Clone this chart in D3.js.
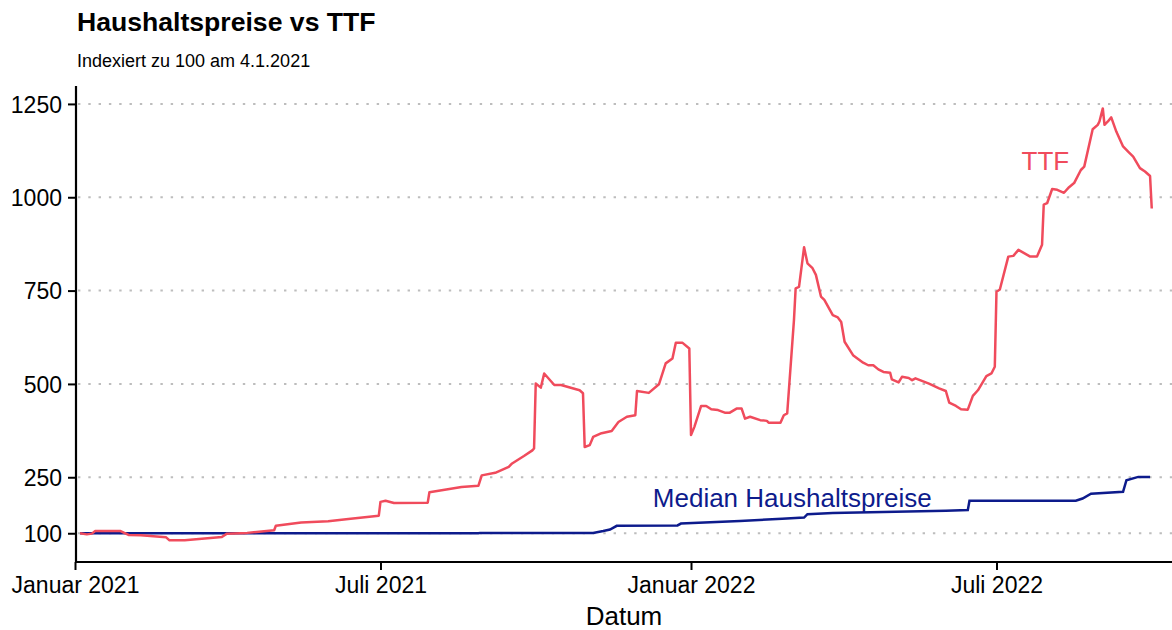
<!DOCTYPE html>
<html>
<head>
<meta charset="utf-8">
<script src="https://cdn.jsdelivr.net/npm/d3@7"></script>
<style>
  body { margin: 0; background: #fff; }
  text { font-family: "Liberation Sans", Arial, sans-serif; }
</style>
</head>
<body>
<svg id="chart" width="1172" height="630"></svg>
<script>
// Daten, Index 100 am 4.1.2021
var ttfSeries = [
  ["2021-01-04", 100], ["2021-01-08", 97], ["2021-01-11", 99], ["2021-01-13", 106],
  ["2021-01-28", 106], ["2021-02-02", 95], ["2021-02-09", 94.6], ["2021-02-24", 89],
  ["2021-02-26", 81], ["2021-03-07", 81], ["2021-03-29", 90], ["2021-04-01", 99],
  ["2021-04-13", 101], ["2021-04-29", 108], ["2021-04-30", 120], ["2021-05-15", 129],
  ["2021-05-31", 132], ["2021-06-12", 138], ["2021-06-30", 147], ["2021-07-01", 184],
  ["2021-07-04", 187], ["2021-07-09", 181], ["2021-07-29", 182], ["2021-07-30", 210],
  ["2021-08-09", 217], ["2021-08-18", 224], ["2021-08-28", 227], ["2021-08-30", 255],
  ["2021-09-07", 262], ["2021-09-15", 278], ["2021-09-17", 287], ["2021-09-24", 307],
  ["2021-09-29", 322], ["2021-09-30", 327], ["2021-10-01", 501], ["2021-10-04", 490],
  ["2021-10-06", 528], ["2021-10-12", 497], ["2021-10-16", 497], ["2021-10-27", 483],
  ["2021-10-29", 475], ["2021-10-30", 331], ["2021-11-02", 336], ["2021-11-04", 358],
  ["2021-11-09", 368], ["2021-11-15", 374], ["2021-11-19", 398], ["2021-11-24", 412],
  ["2021-11-29", 416], ["2021-11-30", 481], ["2021-12-07", 476], ["2021-12-13", 499],
  ["2021-12-17", 555], ["2021-12-21", 568], ["2021-12-23", 610], ["2021-12-27", 610],
  ["2021-12-31", 595], ["2022-01-01", 363], ["2022-01-03", 385], ["2022-01-07", 441],
  ["2022-01-10", 441], ["2022-01-13", 432], ["2022-01-17", 430], ["2022-01-21", 423],
  ["2022-01-24", 423], ["2022-01-28", 434], ["2022-01-31", 434], ["2022-02-02", 407],
  ["2022-02-05", 412], ["2022-02-11", 403], ["2022-02-15", 401], ["2022-02-16", 396],
  ["2022-02-23", 396], ["2022-02-25", 416], ["2022-02-27", 421], ["2022-03-03", 671],
  ["2022-03-04", 756], ["2022-03-06", 760], ["2022-03-09", 866], ["2022-03-11", 823],
  ["2022-03-14", 810], ["2022-03-16", 792], ["2022-03-19", 734], ["2022-03-21", 725],
  ["2022-03-26", 684], ["2022-03-29", 678], ["2022-03-31", 666], ["2022-04-02", 613],
  ["2022-04-07", 577], ["2022-04-13", 557], ["2022-04-16", 550], ["2022-04-19", 550],
  ["2022-04-22", 539], ["2022-04-25", 532], ["2022-04-29", 530], ["2022-04-30", 512],
  ["2022-05-04", 504], ["2022-05-06", 519], ["2022-05-10", 516], ["2022-05-12", 510],
  ["2022-05-14", 515], ["2022-05-22", 501], ["2022-05-28", 488], ["2022-06-01", 481],
  ["2022-06-03", 450], ["2022-06-07", 441], ["2022-06-10", 432], ["2022-06-14", 431],
  ["2022-06-17", 468], ["2022-06-20", 483], ["2022-06-25", 521], ["2022-06-28", 528],
  ["2022-06-30", 546], ["2022-07-01", 747], ["2022-07-03", 753], ["2022-07-08", 841],
  ["2022-07-11", 843], ["2022-07-14", 859], ["2022-07-21", 841], ["2022-07-25", 841],
  ["2022-07-28", 873], ["2022-07-29", 980], ["2022-07-31", 984], ["2022-08-03", 1022],
  ["2022-08-06", 1020], ["2022-08-10", 1012], ["2022-08-13", 1027], ["2022-08-16", 1038],
  ["2022-08-20", 1073], ["2022-08-22", 1082], ["2022-08-27", 1182], ["2022-08-30", 1194],
  ["2022-08-31", 1203], ["2022-09-02", 1238], ["2022-09-03", 1194], ["2022-09-05", 1203],
  ["2022-09-07", 1214], ["2022-09-10", 1176], ["2022-09-14", 1136], ["2022-09-17", 1122],
  ["2022-09-20", 1109], ["2022-09-24", 1078], ["2022-09-27", 1069], ["2022-09-30", 1057],
  ["2022-10-01", 970]
];

var haushaltSeries = [
  ["2021-01-04", 100], ["2021-08-28", 100], ["2021-08-29", 101], ["2021-11-04", 101],
  ["2021-11-10", 106], ["2021-11-14", 110], ["2021-11-18", 120], ["2021-12-24", 121],
  ["2021-12-26", 126], ["2022-01-30", 133], ["2022-02-24", 139], ["2022-03-09", 142],
  ["2022-03-11", 151], ["2022-03-26", 154], ["2022-06-01", 160], ["2022-06-14", 162],
  ["2022-06-15", 187], ["2022-08-17", 187], ["2022-08-21", 193], ["2022-08-26", 206],
  ["2022-09-14", 211], ["2022-09-16", 242], ["2022-09-23", 251], ["2022-09-30", 251]
];

var yTicks = [100, 250, 500, 750, 1000, 1250];
var xTicks = ["2021-01-01", "2021-07-01", "2022-01-01", "2022-07-01"];
var xTickLabels = ["Januar 2021", "Juli 2021", "Januar 2022", "Juli 2022"];

// Beschriftungen im Plot
var seriesLabels = [
  { text: "TTF", date: "2022-07-30", value: 1097, color: "#f04b5c" },
  { text: "Median Haushaltspreise", date: "2022-03-02", value: 196, color: "#0d1b8c" }
];

var parse = d3.timeParse("%Y-%m-%d");
var ttf = ttfSeries.map(function(d) { return { date: parse(d[0]), value: d[1] }; });
var haushalt = haushaltSeries.map(function(d) { return { date: parse(d[0]), value: d[1] }; });

var svg = d3.select("#chart");
var plotLeft = 76, plotRight = 1172, plotTop = 86, plotBottom = 562;

var x = d3.scaleTime()
  .domain([parse("2021-01-01"), parse("2022-10-13")])
  .range([75, plotRight]);
var y = d3.scaleLinear()
  .domain([23, 1298])
  .range([plotBottom, plotTop]);

// Titel
svg.append("text")
  .attr("x", 77).attr("y", 31)
  .style("font-size", "26.6px").style("font-weight", "bold")
  .text("Haushaltspreise vs TTF");
svg.append("text")
  .attr("x", 77).attr("y", 67)
  .style("font-size", "18px")
  .text("Indexiert zu 100 am 4.1.2021");

// Gitterlinien (gepunktet)
svg.append("g")
  .selectAll("line")
  .data(yTicks)
  .enter()
  .append("line")
  .attr("x1", plotLeft + 2).attr("x2", plotRight)
  .attr("y1", function(d) { return y(d); })
  .attr("y2", function(d) { return y(d); })
  .attr("stroke", "#bdbdbd")
  .attr("stroke-width", 2)
  .attr("stroke-dasharray", "2.4,7.9");

// Linien
var line = d3.line()
  .x(function(d) { return x(d.date); })
  .y(function(d) { return y(d.value); });

svg.append("path")
  .datum(haushalt)
  .attr("d", line)
  .attr("fill", "none")
  .attr("stroke", "#0d1b8c")
  .attr("stroke-width", 2.5);

svg.append("path")
  .datum(ttf)
  .attr("d", line)
  .attr("fill", "none")
  .attr("stroke", "#f04b5c")
  .attr("stroke-width", 2.5)
  .attr("stroke-linejoin", "round");

// Achsen
var yAxis = svg.append("g")
  .attr("transform", "translate(" + plotLeft + ",0)")
  .call(d3.axisLeft(y).tickValues(yTicks).tickFormat(d3.format("d")).tickSize(8).tickPadding(6));
var xAxis = svg.append("g")
  .attr("transform", "translate(0," + plotBottom + ")")
  .call(d3.axisBottom(x)
    .tickValues(xTicks.map(parse))
    .tickFormat(function(d, i) { return xTickLabels[i]; })
    .tickSize(8).tickPadding(7));

[yAxis, xAxis].forEach(function(ax) {
  ax.select(".domain").attr("stroke", "#000").attr("stroke-width", 2.2);
  ax.selectAll(".tick line").attr("stroke", "#000").attr("stroke-width", 2);
  ax.selectAll(".tick text")
    .attr("fill", "#000")
    .style("font-size", "23px")
    .style("font-family", "'Liberation Sans', Arial, sans-serif");
});
// y-Achse von oben bis zur x-Achse
yAxis.select(".domain").attr("d", "M0," + plotTop + "V" + plotBottom);
xAxis.select(".domain").attr("d", "M" + plotLeft + ",0H" + plotRight);
yAxis.selectAll(".tick text").attr("dy", "0.36em");

// Achsentitel
svg.append("text")
  .attr("x", (plotLeft + plotRight) / 2).attr("y", 625)
  .attr("text-anchor", "middle")
  .style("font-size", "26px")
  .text("Datum");

// Serienbeschriftung
svg.append("g")
  .selectAll("text")
  .data(seriesLabels)
  .enter()
  .append("text")
  .attr("x", function(d) { return x(parse(d.date)); })
  .attr("y", function(d) { return y(d.value); })
  .attr("dy", "0.36em")
  .attr("text-anchor", "middle")
  .attr("fill", function(d) { return d.color; })
  .style("font-size", "26px")
  .text(function(d) { return d.text; });
</script>
</body>
</html>
